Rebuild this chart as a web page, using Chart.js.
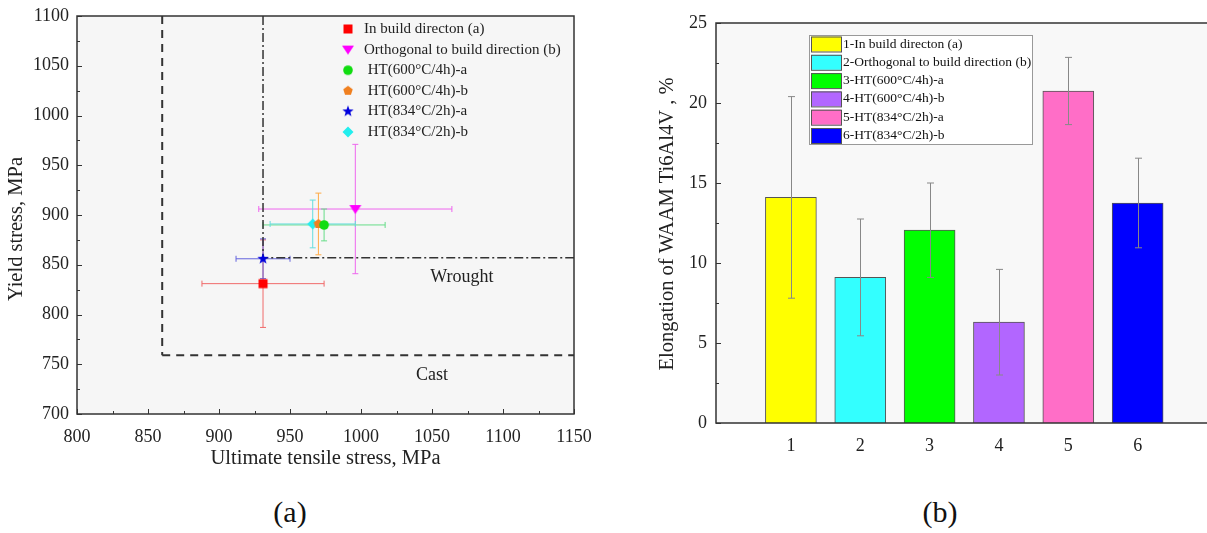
<!DOCTYPE html>
<html>
<head>
<meta charset="utf-8">
<script src="https://cdn.jsdelivr.net/npm/chart.js@4.4.0/dist/chart.umd.min.js"></script>
<style>
  body { margin: 0; background: #ffffff; width: 1207px; height: 533px; position: relative; overflow: hidden; }
  #boxA { position: absolute; left: 0; top: 0; width: 600px; height: 480px; }
  #boxB { position: absolute; left: 600px; top: 0; width: 607px; height: 480px; }
  .caption { position: absolute; top: 495px; font: 30px 'Liberation Serif', 'Times New Roman', serif; color: #111; transform: translateX(-50%); }
</style>
</head>
<body>
<div id="boxA"><canvas id="chartA"></canvas></div>
<div id="boxB"><canvas id="chartB"></canvas></div>
<div class="caption" style="left:290px">(a)</div>
<div class="caption" style="left:940px">(b)</div>
<script>
// ---- data for (a) ----
const seriesNames = ['In build directon (a)', 'Orthogonal to build direction (b)', ' HT(600\u00b0C/4h)-a', ' HT(600\u00b0C/4h)-b', ' HT(834\u00b0C/2h)-a', ' HT(834\u00b0C/2h)-b'];
const utsValues = [931, 996, 974, 970, 931, 966];
const utsErrors = [43, 68, 43, 3, 19, 30];
const yieldValues = [831, 906, 890, 891, 856, 891];
const yieldErrors = [44, 65, 16, 31, 20, 24];
const markerShapes = ['square', 'triangleDown', 'circle', 'pentagon', 'star', 'diamond'];
const markerColors = ['#ff0000', '#ff00ff', '#11dd11', '#f08020', '#0000dd', '#22eeee'];
const errorColors = ['#f06a6a', '#ee66ee', '#66dd88', '#ffaa44', '#6464dd', '#66dddd'];
const xTicksA = [800, 850, 900, 950, 1000, 1050, 1100, 1150];
const yTicksA = [700, 750, 800, 850, 900, 950, 1000, 1050, 1100];
const wroughtLine = [{x: 931, y: 1100}, {x: 931, y: 857}, {x: 1150, y: 857}];
const castLine = [{x: 860, y: 1100}, {x: 860, y: 759}, {x: 1150, y: 759}];

// ---- data for (b) ----
const barLabels = ['1', '2', '3', '4', '5', '6'];
const barNames = ['1-In build directon (a)', '2-Orthogonal to build direction (b)', '3-HT(600\u00b0C/4h)-a', '4-HT(600\u00b0C/4h)-b', '5-HT(834\u00b0C/2h)-a', '6-HT(834\u00b0C/2h)-b'];
const elongation = [14.1, 9.1, 12.05, 6.3, 20.75, 13.75];
const elongationErr = [6.3, 3.65, 2.95, 3.3, 2.1, 2.8];
const barColors = ['#ffff00', '#33ffff', '#00ff00', '#b266ff', '#ff6ec7', '#0000ff'];
const yTicksB = [0, 5, 10, 15, 20, 25];

const serif = "'Liberation Serif', 'Times New Roman', serif";

// marker images used as point styles
function makeMarker(shape, color) {
  const s = 14;
  const c = document.createElement('canvas');
  c.width = s; c.height = s;
  const g = c.getContext('2d');
  g.fillStyle = color;
  const m = s / 2;
  g.beginPath();
  if (shape === 'square') {
    g.rect(m - 4.5, m - 4.5, 9, 9);
  } else if (shape === 'triangleDown') {
    g.moveTo(m - 6, m - 4); g.lineTo(m + 6, m - 4); g.lineTo(m, m + 5); g.closePath();
  } else if (shape === 'circle') {
    g.arc(m, m, 4.8, 0, Math.PI * 2);
  } else if (shape === 'pentagon') {
    for (let k = 0; k < 5; k++) {
      const a = -Math.PI / 2 + k * 2 * Math.PI / 5;
      g.lineTo(m + 5 * Math.cos(a), m + 5 * Math.sin(a));
    }
    g.closePath();
  } else if (shape === 'star') {
    for (let k = 0; k < 10; k++) {
      const a = -Math.PI / 2 + k * Math.PI / 5;
      const r = k % 2 ? 2.4 : 6;
      g.lineTo(m + r * Math.cos(a), m + r * Math.sin(a));
    }
    g.closePath();
  } else if (shape === 'diamond') {
    g.moveTo(m, m - 5.5); g.lineTo(m + 5.5, m); g.lineTo(m, m + 5.5); g.lineTo(m - 5.5, m); g.closePath();
  }
  g.fill();
  return c;
}
const markers = markerShapes.map((s, i) => makeMarker(s, markerColors[i]));

function inwardTicks(ctx, scale, values, major, side, area) {
  ctx.save();
  ctx.strokeStyle = '#333';
  ctx.lineWidth = 1;
  values.forEach(v => {
    const len = major(v) ? 5 : 3;
    const p = Math.round(scale.getPixelForValue(v)) + 0.5;
    ctx.beginPath();
    if (side === 'left') { ctx.moveTo(area.left, p); ctx.lineTo(area.left + len, p); }
    else { ctx.moveTo(p, area.bottom); ctx.lineTo(p, area.bottom - len); }
    ctx.stroke();
  });
  ctx.restore();
}

// ---------------- chart (a) ----------------
const pluginA = {
  id: 'pluginA',
  beforeDraw(chart) {
    const {ctx, chartArea: a} = chart;
    ctx.save();
    ctx.fillStyle = '#f6f6f6';
    ctx.fillRect(a.left, a.top, a.right - a.left, a.bottom - a.top);
    ctx.restore();
  },
  beforeDatasetsDraw(chart) {
    const {ctx, scales: {x, y}} = chart;
    ctx.save();
    ctx.lineWidth = 1;
    utsValues.forEach((u, i) => {
      const px = x.getPixelForValue(u), py = y.getPixelForValue(yieldValues[i]);
      const x1 = x.getPixelForValue(u - utsErrors[i]), x2 = x.getPixelForValue(u + utsErrors[i]);
      const y1 = y.getPixelForValue(yieldValues[i] + yieldErrors[i]), y2 = y.getPixelForValue(yieldValues[i] - yieldErrors[i]);
      ctx.strokeStyle = errorColors[i];
      ctx.beginPath();
      ctx.moveTo(x1, py); ctx.lineTo(x2, py);
      ctx.moveTo(x1, py - 3); ctx.lineTo(x1, py + 3);
      ctx.moveTo(x2, py - 3); ctx.lineTo(x2, py + 3);
      ctx.moveTo(px, y1); ctx.lineTo(px, y2);
      ctx.moveTo(px - 3, y1); ctx.lineTo(px + 3, y1);
      ctx.moveTo(px - 3, y2); ctx.lineTo(px + 3, y2);
      ctx.stroke();
    });
    ctx.restore();
  },
  afterDraw(chart) {
    const {ctx, chartArea: a, scales: {x, y}} = chart;
    ctx.save();
    ctx.strokeStyle = '#333';
    ctx.lineWidth = 1.5;
    ctx.strokeRect(a.left, a.top, a.right - a.left, a.bottom - a.top);
    ctx.restore();
    const xs = [], ys = [];
    for (let v = 800; v <= 1150; v += 25) xs.push(v);
    for (let v = 700; v <= 1100; v += 25) ys.push(v);
    inwardTicks(ctx, x, xs, v => v % 50 === 0, 'bottom', a);
    inwardTicks(ctx, y, ys, v => v % 50 === 0, 'left', a);

    ctx.save();
    ctx.fillStyle = '#222';
    ctx.textBaseline = 'middle';
    ctx.font = '18px ' + serif;
    ctx.textAlign = 'center';
    ctx.fillText('Wrought', x.getPixelForValue(1071), y.getPixelForValue(837));
    ctx.fillText('Cast', x.getPixelForValue(1050), y.getPixelForValue(739));

    // legend
    ctx.textAlign = 'left';
    ctx.font = '15px ' + serif;
    seriesNames.forEach((n, i) => {
      const ry = 29 + i * 20.6;
      const img = markers[i];
      ctx.drawImage(img, 348 - img.width / 2, ry - img.height / 2);
      ctx.fillText(n, 364, ry);
    });

    // axis titles
    ctx.font = '20.5px ' + serif;
    ctx.textAlign = 'center';
    ctx.fillText('Ultimate tensile stress, MPa', (a.left + a.right) / 2, 459);
    ctx.translate(17, 229);
    ctx.rotate(-Math.PI / 2);
    ctx.fillText('Yield stress, MPa', 0, 0);
    ctx.restore();
  }
};

const scatterSets = seriesNames.map((n, i) => ({
  type: 'scatter',
  label: n,
  data: [{x: utsValues[i], y: yieldValues[i]}],
  pointStyle: markers[i],
  pointRadius: 6,
  order: 0
}));

new Chart(document.getElementById('chartA'), {
  data: {
    datasets: [
      {type: 'line', label: 'Wrought', data: wroughtLine, borderColor: '#333', borderWidth: 1.5, borderDash: [9, 3, 2, 3], pointRadius: 0, fill: false, order: 2},
      {type: 'line', label: 'Cast', data: castLine.slice(1), borderColor: '#333', borderWidth: 2, borderDash: [8, 6], pointRadius: 0, fill: false, order: 2},
      {type: 'line', label: 'CastV', data: castLine.slice(0, 2), borderColor: '#333', borderWidth: 2, borderDash: [8, 6], pointRadius: 0, fill: false, order: 2},
      ...scatterSets
    ]
  },
  options: {
    responsive: true,
    maintainAspectRatio: false,
    animation: false,
    events: [],
    layout: {padding: {top: 16, right: 26, left: 0, bottom: 0}},
    plugins: {legend: {display: false}, tooltip: {enabled: false}},
    scales: {
      x: {
        type: 'linear', min: 800, max: 1150,
        afterBuildTicks: s => { s.ticks = xTicksA.map(v => ({value: v})); },
        afterFit: s => { s.height = 66; s.paddingLeft = 0; s.paddingRight = 0; },
        grid: {display: false, drawTicks: false},
        border: {display: false},
        ticks: {padding: 12, color: '#222', font: {family: serif, size: 18}, maxRotation: 0, callback: v => String(v)}
      },
      y: {
        type: 'linear', min: 700, max: 1100,
        afterBuildTicks: s => { s.ticks = yTicksA.map(v => ({value: v})); },
        afterFit: s => { s.width = 77; s.paddingTop = 0; s.paddingBottom = 0; },
        grid: {display: false, drawTicks: false},
        border: {display: false},
        ticks: {padding: 8, color: '#222', font: {family: serif, size: 18}, callback: v => String(v)}
      }
    }
  },
  plugins: [pluginA]
});

// ---------------- chart (b) ----------------
const pluginB = {
  id: 'pluginB',
  beforeDraw(chart) {
    const {ctx, chartArea: a} = chart;
    ctx.save();
    ctx.fillStyle = '#f8f8f8';
    ctx.fillRect(a.left, a.top, a.right - a.left, a.bottom - a.top);
    ctx.restore();
  },
  afterDatasetsDraw(chart) {
    const {ctx, scales: {x, y}} = chart;
    ctx.save();
    ctx.strokeStyle = '#888';
    ctx.lineWidth = 1;
    elongation.forEach((v, i) => {
      const px = Math.round(x.getPixelForValue(i + 1)) + 0.5;
      const y1 = y.getPixelForValue(v + elongationErr[i]);
      const y2 = y.getPixelForValue(v - elongationErr[i]);
      ctx.beginPath();
      ctx.moveTo(px, y1); ctx.lineTo(px, y2);
      ctx.moveTo(px - 3.5, y1); ctx.lineTo(px + 3.5, y1);
      ctx.moveTo(px - 3.5, y2); ctx.lineTo(px + 3.5, y2);
      ctx.stroke();
    });
    ctx.restore();
  },
  afterDraw(chart) {
    const {ctx, chartArea: a, scales: {y}} = chart;
    ctx.save();
    ctx.strokeStyle = '#333';
    ctx.lineWidth = 1.5;
    ctx.beginPath();
    ctx.moveTo(a.right, a.top); ctx.lineTo(a.left, a.top); ctx.lineTo(a.left, a.bottom); ctx.lineTo(a.right, a.bottom);
    ctx.stroke();
    ctx.restore();
    const ys = [];
    for (let v = 0; v <= 25; v += 2.5) ys.push(v);
    inwardTicks(ctx, y, ys, v => v % 5 === 0, 'left', a);

    // legend box
    ctx.save();
    ctx.fillStyle = '#ffffff';
    ctx.fillRect(209, 35, 223, 109);
    ctx.strokeStyle = '#999';
    ctx.lineWidth = 1;
    ctx.strokeRect(209.5, 35.5, 223, 109);
    ctx.font = '13.5px ' + serif;
    ctx.textBaseline = 'middle';
    ctx.textAlign = 'left';
    barNames.forEach((n, i) => {
      const ry = 44 + i * 18.3;
      ctx.fillStyle = barColors[i];
      ctx.fillRect(211, ry - 7.5, 30, 15);
      ctx.strokeStyle = '#555';
      ctx.strokeRect(211.5, ry - 7, 30, 15);
      ctx.fillStyle = '#111';
      ctx.fillText(n, 243, ry);
    });

    ctx.fillStyle = '#222';
    ctx.font = '20.5px ' + serif;
    ctx.textAlign = 'center';
    ctx.translate(68, 224);
    ctx.rotate(-Math.PI / 2);
    ctx.fillText('Elongation of WAAM Ti6Al4V , %', 0, 0);
    ctx.restore();
  }
};

new Chart(document.getElementById('chartB'), {
  type: 'bar',
  data: {
    datasets: [{
      label: 'Elongation',
      data: elongation.map((v, i) => ({x: i + 1, y: v})),
      backgroundColor: barColors,
      borderColor: '#555',
      borderWidth: 1,
      borderSkipped: 'bottom',
      barThickness: 51
    }]
  },
  options: {
    responsive: true,
    maintainAspectRatio: false,
    animation: false,
    events: [],
    layout: {padding: {top: 23, right: 0, left: 0, bottom: 0}},
    plugins: {legend: {display: false}, tooltip: {enabled: false}},
    scales: {
      x: {
        type: 'linear', min: -0.08, max: 7, offset: false,
        afterBuildTicks: s => { s.ticks = barLabels.map((l, i) => ({value: i + 1})); },
        afterFit: s => { s.height = 57; s.paddingLeft = 0; s.paddingRight = 0; },
        grid: {display: false, drawTicks: false},
        border: {display: false},
        ticks: {padding: 12, color: '#222', font: {family: serif, size: 18}, maxRotation: 0,
          callback: v => barLabels[v - 1]}
      },
      y: {
        min: 0, max: 25,
        afterBuildTicks: s => { s.ticks = yTicksB.map(v => ({value: v})); },
        afterFit: s => { s.width = 116; s.paddingTop = 0; s.paddingBottom = 0; },
        grid: {display: false, drawTicks: false},
        border: {display: false},
        ticks: {padding: 9, color: '#222', font: {family: serif, size: 18}}
      }
    }
  },
  plugins: [pluginB]
});
</script>
</body>
</html>
